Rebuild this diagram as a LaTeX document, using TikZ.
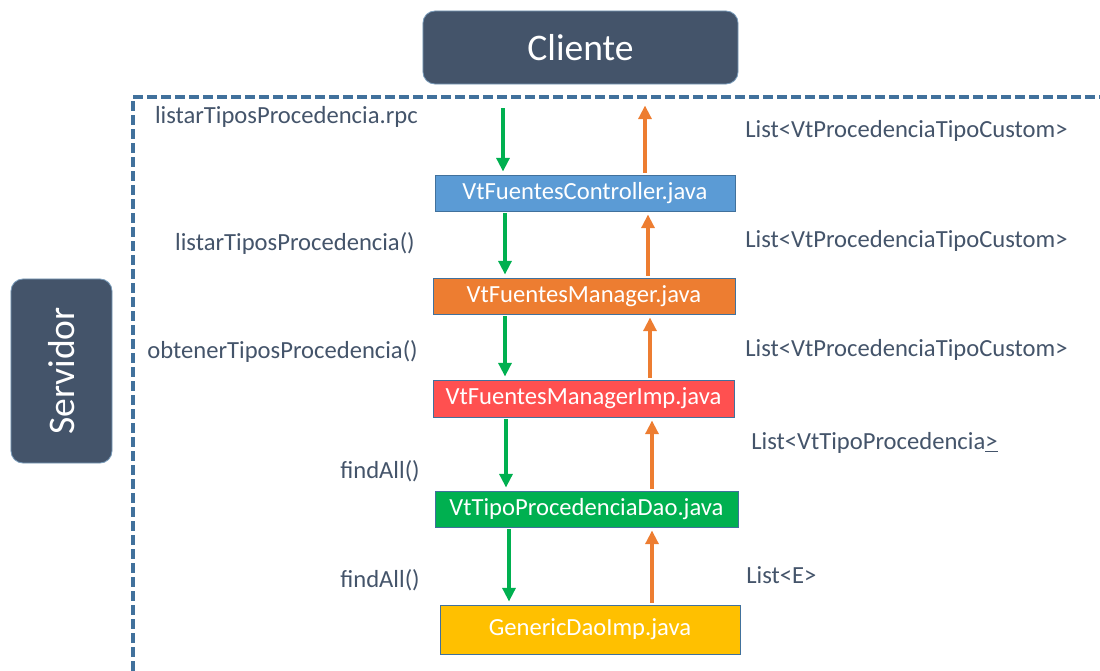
\documentclass[tikz,border=0pt]{standalone}
\usepackage{fontspec}
\setmainfont{Carlito}
\usetikzlibrary{arrows.meta,calc}
\definecolor{cHead}{HTML}{44546A}
\definecolor{cEdge}{HTML}{41719C}
\definecolor{cCtrl}{HTML}{5B9BD5}
\definecolor{cMgr}{HTML}{ED7D31}
\definecolor{cImp}{HTML}{FF5050}
\definecolor{cDao}{HTML}{00B050}
\definecolor{cGen}{HTML}{FFC000}
\definecolor{cCall}{HTML}{00B050}
\definecolor{cBack}{HTML}{ED7D31}
\definecolor{cText}{HTML}{44546A}
\tikzset{
  tier/.style  = {draw=cEdge!70, fill=cHead, rounded corners=3mm, text=white,
                  line width=0.6pt, font=\fontsize{26.7}{32}\selectfont},
  cls/.style   = {draw=cEdge, line width=0.6pt, text=white, inner sep=0pt,
                  minimum height=0.9cm, font=\fontsize{17.5}{21}\selectfont},
  call/.style  = {-{Triangle[length=3.4mm,width=3.2mm]}, line width=0.95mm,
                  draw=cCall, shorten <=0.5mm, shorten >=0.75mm},
  back/.style  = {call, draw=cBack},
  msg/.style   = {text=cText, inner sep=0pt, font=\fontsize{17.5}{21}\selectfont},
  frame/.style = {draw=cEdge, line width=1mm, dash pattern=on 2.5mm off 1mm},
}
\begin{document}
\begin{tikzpicture}[x=0.025cm, y=-0.025cm]
  \useasboundingbox (0,0) rectangle (1100,671);
  % ---- tiers ----
  \node[tier, minimum width=7.875cm, minimum height=1.825cm] (cliente)
    at (580.5,47.5) {Cliente};
  \node[tier, rotate=90, minimum width=4.6cm, minimum height=2.525cm] (servidor)
    at (61.5,371) {Servidor};
  \draw[frame] (133,671) -- (133,97) -- (1100,97);
  % ---- classes ----
  \node[cls, fill=cCtrl, minimum width=7.5cm] (ctrl) at (585,193)
    {VtFuentesController.java};
  \node[cls, fill=cMgr, minimum width=7.55cm] (mgr) at (584,296)
    {VtFuentesManager.java};
  \node[cls, fill=cImp, minimum width=7.525cm, minimum height=0.925cm] (imp)
    at (583.5,398.5) {VtFuentesManagerImp.java};
  \node[cls, fill=cDao, minimum width=7.575cm] (dao) at (586.5,509)
    {VtTipoProcedenciaDao.java};
  \node[cls, fill=cGen, minimum width=7.5cm, minimum height=1.225cm] (gen)
    at (590,629.5) {GenericDaoImp.java};
  % ---- calls going down ----
  \draw[call, shorten <=6mm] (cliente.south -| 503,0) -- (ctrl.north -| 503,0);
  \draw[call] (ctrl.south -| 505,0) -- (mgr.north -| 505,0);
  \draw[call] (mgr.south -| 505,0) -- (imp.north -| 505,0);
  \draw[call] (imp.south -| 506,0) -- (dao.north -| 506,0);
  \draw[call] (dao.south -| 509,0) -- (gen.north -| 509,0);
  % ---- results coming back ----
  \draw[back, shorten >=5.25mm] (ctrl.north -| 645,0) -- (cliente.south -| 645,0);
  \draw[back] (mgr.north -| 648,0) -- (ctrl.south -| 648,0);
  \draw[back] (imp.north -| 650,0) -- (mgr.south -| 650,0);
  \draw[back] (dao.north -| 652,0) -- (imp.south -| 652,0);
  \draw[back] (gen.north -| 652,0) -- (dao.south -| 652,0);
  % ---- method labels ----
  \node[msg, anchor=east] (qRpc) at (418,117) {listarTiposProcedencia.rpc};
  \node[msg, anchor=east] (qCtrl) at (415,243) {listarTiposProcedencia()};
  \node[msg, anchor=east] (qMgr) at (418,351) {obtenerTiposProcedencia()};
  \node[msg, anchor=east] (qImp) at (420,471) {findAll()};
  \node[msg, anchor=east] (qDao) at (420,580) {findAll()};
  % ---- return labels ----
  \node[msg, anchor=west] (rCtrl) at (745,131) {List<VtProcedenciaTipoCustom>};
  \node[msg, anchor=west] (rMgr) at (745,241) {List<VtProcedenciaTipoCustom>};
  \node[msg, anchor=west] (rImp) at (745,350) {List<VtProcedenciaTipoCustom>};
  \node[msg, anchor=west] (rDao) at (751,443) {List<VtTipoProcedencia\underline{>}};
  \node[msg, anchor=west] (rGen) at (746,575) {List<E>};
\end{tikzpicture}
\end{document}
